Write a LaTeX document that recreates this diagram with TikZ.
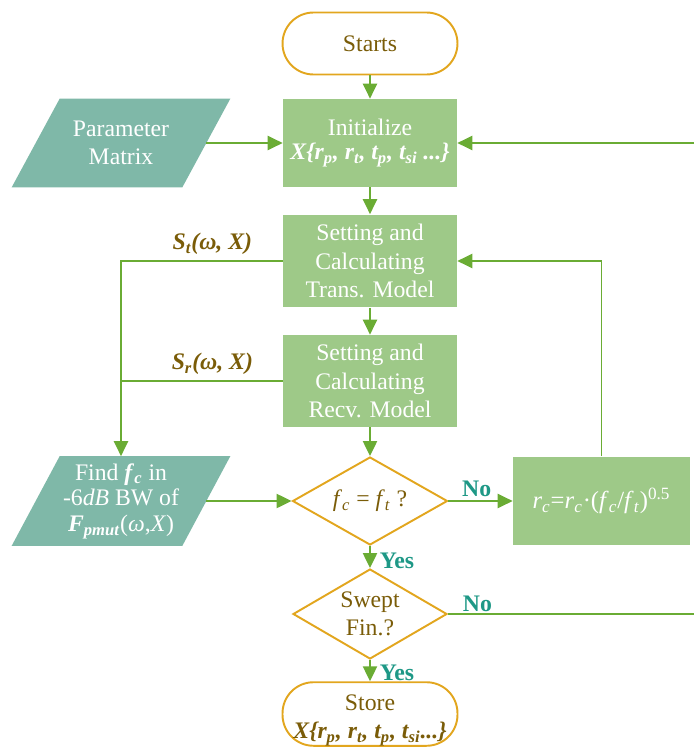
\documentclass[tikz,border=0pt]{standalone}
\usepackage{fontspec}
\setmainfont{Liberation Serif}
\usetikzlibrary{shapes.geometric,arrows.meta,backgrounds}
\definecolor{flowGreen}{RGB}{106,172,52}
\definecolor{boxGreen}{RGB}{158,201,136}
\definecolor{slantTeal}{RGB}{127,184,168}
\definecolor{edgeGold}{RGB}{226,166,30}
\definecolor{textBrown}{RGB}{122,92,8}
\definecolor{yesTeal}{RGB}{30,152,134}
\newcommand{\ivar}[1]{\textit{#1}}
\newcommand{\isub}[2]{\textit{#1}\textsubscript{\textit{#2}}}
\tikzset{
  base/.style={font=\fontsize{13.5}{16}\selectfont,align=center,inner sep=0pt},
  proc/.style={base,rectangle,fill=boxGreen,text=white,minimum width=3.48cm,minimum height=1.76cm},
  slantbody/.style={base,rectangle,text=white,minimum width=3.4cm,minimum height=1.76cm},
  pill/.style={base,rectangle,rounded corners=0.62cm,draw=edgeGold,line width=1.1pt,
    text=textBrown,minimum width=3.5cm,minimum height=1.24cm},
  test/.style={base,diamond,draw=edgeGold,line width=1.1pt,text=textBrown,
    minimum width=3.1cm,minimum height=1.76cm,shape aspect=1.75},
  flow/.style={draw=flowGreen,line width=1.1pt,-{Triangle[length=8.5pt,width=8pt]}},
  wire/.style={draw=flowGreen,line width=1.1pt},
  sig/.style={base,text=textBrown,font=\fontsize{13.5}{16}\selectfont\bfseries\itshape},
  ans/.style={base,text=yesTeal,font=\fontsize{13.5}{16}\selectfont\bfseries}
}
\begin{document}
\begin{tikzpicture}[x=0.02cm,y=-0.02cm]
  \useasboundingbox (0,0) rectangle (694,747);
  \node[pill] (start) at (370,43.5) {Starts};
  \node[proc] (init) at (370,143) {\raisebox{-3pt}{Initialize}\\[1pt] \bfseries\itshape X\{r\textsubscript{p}, r\textsubscript{t}, t\textsubscript{p}, t\textsubscript{si} ...\}};
  \node[slantbody] (param) at (121,143) {Parameter\\ Matrix};
  \node[proc,minimum height=1.86cm] (trans) at (370,261) {Setting and\\ Calculating\\ Trans. Model};
  \node[proc,minimum height=1.84cm] (recv) at (370,381) {Setting and\\ Calculating\\ Recv. Model};
  \node[test] (match) at (370,501) {\isub{f}{c} = \isub{f}{t} ?};
  \node[proc,minimum width=3.54cm,minimum height=1.78cm] (update) at (601.5,501)
    {\fontsize{14}{16}\selectfont\isub{r}{c}=\isub{r}{c}·(\isub{f}{c}/\isub{f}{t})\textsuperscript{0.5}};
  \node[slantbody,minimum height=1.78cm,font=\fontsize{13.5}{14.6}\selectfont] (find) at (121,501)
    {Find \textbf{\isub{f}{c}} in\\ -6\ivar{dB} BW of\\ \textbf{\isub{F}{pmut}}(\ivar{ω},\ivar{X})};
  \node[test,minimum width=3.08cm,minimum height=1.8cm] (swept) at (370,614) {Swept\\ Fin.?};
  \node[pill,minimum height=1.24cm] (store) at (370,714)
    {\rule{0pt}{16pt}Store\\ \bfseries\itshape X\{r\textsubscript{p}, r\textsubscript{t}, t\textsubscript{p}, t\textsubscript{si}...\}};
  \begin{scope}[on background layer]
    \foreach \n in {param,find}
      \fill[slantTeal] ([xshift=0.48cm]\n.north west) -- ([xshift=0.48cm]\n.north east)
        -- ([xshift=-0.48cm]\n.south east) -- ([xshift=-0.48cm]\n.south west) -- cycle;
  \end{scope}
  \coordinate (loopN) at (694,143);
  \coordinate (loopS) at (694,614);
  \path[flow] (start) -- (init);
  \path[flow] (init) -- (trans);
  \path[flow] (trans) -- (recv);
  \path[flow] (recv) -- (match.north);
  \path[flow] (param.east) -- (init.west);
  \path[flow] (loopN) -- (init.east);
  \path[flow] (trans.west) -- node[sig,above=3pt,xshift=6pt] {S\textsubscript{t}(ω, X)} (trans.west -| find.north) -- (find.north);
  \path[wire] (recv.west) -- node[sig,above=3pt,xshift=6pt] {S\textsubscript{r}(ω, X)} (recv.west -| find.north);
  \path[flow] (find.east) -- (match.west);
  \path[flow] (match.east) -- node[ans,above=2pt,pos=0.44] {No} (update.west);
  \path[flow] (update.north) |- (trans.east);
  \path[flow] (match.south) -- node[ans,right=5pt,yshift=-2pt] {Yes} (swept.north);
  \path[wire] (swept.east) -- node[ans,above=1pt,pos=0.12] {No} (loopS);
  \path[flow] (swept.south) -- node[ans,right=5pt,yshift=-1pt] {Yes} (store.north);
\end{tikzpicture}
\end{document}
